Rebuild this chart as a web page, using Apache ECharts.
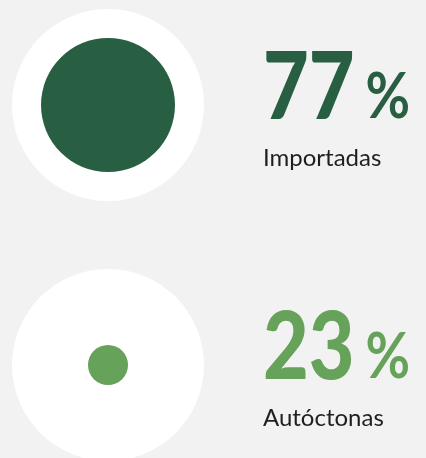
<!DOCTYPE html>
<html>
<head>
<meta charset="utf-8">
<style>
  html, body { margin: 0; padding: 0; background: #f2f2f2; }
  #chart { width: 426px; height: 458px; }
</style>
<script src="https://cdn.jsdelivr.net/npm/echarts@6/dist/echarts.min.js"></script>
</head>
<body>
<div id="chart"></div>
<script>
// 数据
var categories = ['Importadas', 'Autóctonas'];
var values = [77, 23];
var colors = ['#285e41', '#66a259'];

var chart = echarts.init(document.getElementById('chart'));
var pts = categories.map(function (c, i) { return [0, i]; });

chart.setOption({
  animation: false,
  backgroundColor: '#f2f2f2',
  grid: { left: 0, width: 216, top: -25, height: 520, outerBoundsMode: 'none' },
  xAxis: { type: 'category', data: [''], show: false },
  yAxis: { type: 'category', data: categories, inverse: true, show: false },
  series: [
    {
      type: 'scatter',
      silent: true,
      symbolSize: 192,
      itemStyle: { color: '#ffffff', opacity: 1 },
      data: pts
    },
    {
      type: 'scatter',
      silent: true,
      // 半径与数值成正比
      symbolSize: function (v, p) { return values[p.dataIndex] * 1.74; },
      itemStyle: {
        opacity: 1,
        color: function (p) { return colors[p.dataIndex]; }
      },
      data: pts
    }
  ]
});

// 右侧大数字和名称，按圆心像素位置摆放
var numFont = '900 94px Lato';
var numScale = 0.84;
var ctx = document.createElement('canvas').getContext('2d');
ctx.font = numFont;

var graphics = [];
categories.forEach(function (name, i) {
  var c = chart.convertToPixel({ seriesIndex: 0 }, [0, i]);
  var left = c[0] + 155;
  var numW = ctx.measureText(String(values[i])).width * numScale;
  graphics.push({
    type: 'text', x: left, y: c[1] - 16, scaleX: numScale, silent: true,
    style: { text: String(values[i]), font: numFont, fill: colors[i], align: 'left', verticalAlign: 'middle' }
  });
  graphics.push({
    type: 'text', x: left + numW + 11, y: c[1] - 8, scaleX: 0.85, silent: true,
    style: { text: '%', font: 'bold 64px Lato', fill: colors[i], align: 'left', verticalAlign: 'middle' }
  });
  graphics.push({
    type: 'text', x: left, y: c[1] + 53, silent: true,
    style: { text: name, font: '24px Lato', fill: '#1f1f1f', align: 'left', verticalAlign: 'middle' }
  });
});
chart.setOption({ graphic: graphics });
</script>
</body>
</html>
